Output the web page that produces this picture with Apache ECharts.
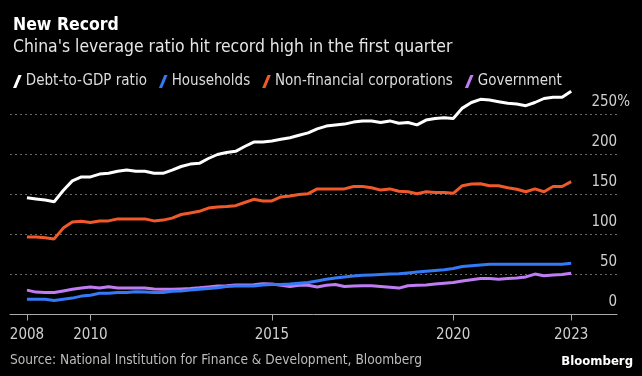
<!DOCTYPE html>
<html>
<head>
<meta charset="utf-8">
<style>
html,body{margin:0;padding:0;background:#000;}
#main{width:642px;height:376px;}
</style>
<script src="https://cdn.jsdelivr.net/npm/echarts@6/dist/echarts.min.js"></script>
</head>
<body>
<div id="main"></div>
<script>
// quarterly data, 2008Q1 .. 2023Q1
let quarters = [
  '2008Q1','2008Q2','2008Q3','2008Q4','2009Q1','2009Q2','2009Q3','2009Q4',
  '2010Q1','2010Q2','2010Q3','2010Q4','2011Q1','2011Q2','2011Q3','2011Q4',
  '2012Q1','2012Q2','2012Q3','2012Q4','2013Q1','2013Q2','2013Q3','2013Q4',
  '2014Q1','2014Q2','2014Q3','2014Q4','2015Q1','2015Q2','2015Q3','2015Q4',
  '2016Q1','2016Q2','2016Q3','2016Q4','2017Q1','2017Q2','2017Q3','2017Q4',
  '2018Q1','2018Q2','2018Q3','2018Q4','2019Q1','2019Q2','2019Q3','2019Q4',
  '2020Q1','2020Q2','2020Q3','2020Q4','2021Q1','2021Q2','2021Q3','2021Q4',
  '2022Q1','2022Q2','2022Q3','2022Q4','2023Q1'
];
let debtToGdp = [
  146, 144.5, 143, 141, 155, 167, 172, 172,
  175.5, 176.5, 179, 180.5, 179, 179, 176.5, 176.5,
  180.5, 185, 188, 189, 195, 200, 202.5, 204,
  210, 215.5, 215.5, 217, 219, 221, 224, 227,
  232, 235.5, 237, 238, 240.5, 242, 242, 240,
  242, 239, 240, 237, 243, 245, 246, 245,
  258, 265, 269, 268, 266, 264, 263, 261,
  265, 270, 271.5, 271.5, 279
];
let households = [
  19, 19, 19, 17.5, 19, 20.5, 23, 24,
  26.5, 26.5, 27.5, 27.5, 28.5, 28, 27.5, 27.5,
  29, 29.5, 30.5, 31.5, 32.5, 33.5, 35, 35.5,
  35.5, 35.5, 37, 37.5, 37.5, 38, 39, 40,
  42, 44, 45.5, 47, 48, 49, 49.5, 50,
  50.5, 51, 52, 53, 54, 55, 56, 57.5,
  60, 61, 62, 62.7, 62.7, 62.7, 62.7, 62.7,
  62.7, 62.7, 62.7, 62.7, 64
];
let corporations = [
  97, 97, 96, 94.5, 108, 115.5, 116.5, 115,
  117, 117, 119.5, 119.5, 119.5, 119.5, 117, 118,
  120.5, 125, 127, 129, 133, 134.5, 135, 136,
  140, 144, 142, 142, 147, 148, 150, 151,
  157, 157, 157, 157, 160, 160, 158.5, 155.5,
  157, 154, 153.5, 151, 153.5, 152.5, 152.5, 151.5,
  161, 163, 163.5, 161, 161, 158.5, 156.5, 153.5,
  157, 153.5, 160, 160, 166
];
let government = [
  30.5, 28, 27.5, 27.5, 29.5, 31.5, 33, 34.5,
  33, 34.8, 33, 33, 33, 33, 32, 31.5,
  31.5, 32, 32.5, 33.3, 34.5, 35.5, 36, 37,
  37, 37.3, 38.5, 38, 36.5, 35, 36.5, 36.5,
  34.5, 36.5, 37.5, 35, 35.5, 36, 36, 35,
  34, 33, 36, 36.5, 37, 38, 39, 40,
  42, 43.5, 45, 45, 44, 45, 45.5, 47,
  50.5, 48.5, 49.5, 50, 51.5
];
let tickQuarters = ['2008Q1', '2009Q4', '2014Q4', '2019Q4', '2023Q1'];
let tickLabels = ['2008', '2010', '2015', '2020', '2023'];

let font = "'Liberation Sans Narrow', 'DejaVu Sans Condensed', 'Roboto', sans-serif";
let tickIdx = tickQuarters.map(function(q){ return quarters.indexOf(q); });

function pairs(arr){
  return arr.map(function(v, i){ return [i, v]; });
}

let slash = 'path://M0,12 L5,0 L8,0 L3,12 Z';

let myChart = echarts.init(document.getElementById('main'));
let option = {
  backgroundColor: '#000',
  animation: false,
  textStyle: { fontFamily: font },
  title: [
    {
      text: 'New Record',
      left: 8, top: 11,
      textStyle: { color: '#fff', fontSize: 17.5, fontWeight: 'bold', fontFamily: font }
    },
    {
      text: "China's leverage ratio hit record high in the first quarter",
      left: 8, top: 34,
      textStyle: { color: '#e6e6e6', fontSize: 17.4, fontWeight: 'normal', fontFamily: font }
    }
  ],
  legend: {
    left: 8, top: 69,
    icon: slash,
    itemWidth: 9, itemHeight: 13,
    itemGap: 12,
    textStyle: { color: '#dcdcdc', fontSize: 15, fontFamily: font, padding: [0, 0, 0, -1] },
    data: ['Debt-to-GDP ratio', 'Households', 'Non-financial corporations', 'Government']
  },
  grid: { left: 10, right: 25, top: 74.5, bottom: 61.5, containLabel: false },
  xAxis: {
    type: 'value',
    min: -1.87, max: 65.05,
    axisLine: { show: true, lineStyle: { color: '#aaa', width: 1 } },
    axisTick: { show: true, customValues: tickIdx, length: 6, lineStyle: { color: '#aaa' } },
    axisLabel: {
      customValues: tickIdx,
      color: '#d0d0d0', fontSize: 15, margin: 13, fontFamily: font,
      formatter: function(v){ return tickLabels[tickIdx.indexOf(Math.round(v))]; }
    },
    splitLine: { show: false }
  },
  yAxis: {
    type: 'value',
    position: 'right',
    min: 0, max: 300, interval: 50,
    axisLine: { show: false },
    axisTick: { show: false },
    axisLabel: {
      inside: true, margin: -13,
      verticalAlign: 'bottom', padding: [0, 0, 5, 0],
      color: '#d0d0d0', fontSize: 15, fontFamily: font,
      showMaxLabel: false,
      formatter: function(v){ return v === 250 ? v + '%' : v + '{h|%}'; },
      rich: { h: { color: 'transparent', fontSize: 15, fontFamily: font } }
    },
    splitLine: { show: true, showMinLine: false, showMaxLine: false, lineStyle: { color: '#6a6a6a', type: [2, 3], width: 1 } }
  },
  series: [
    { name: 'Debt-to-GDP ratio', type: 'line', data: pairs(debtToGdp), showSymbol: false,
      color: '#ffffff', lineStyle: { width: 3 }, z: 5 },
    { name: 'Households', type: 'line', data: pairs(households), showSymbol: false,
      color: '#3479f5', lineStyle: { width: 3 }, z: 4 },
    { name: 'Non-financial corporations', type: 'line', data: pairs(corporations), showSymbol: false,
      color: '#f0592a', lineStyle: { width: 3 }, z: 4 },
    { name: 'Government', type: 'line', data: pairs(government), showSymbol: false,
      color: '#c07cf2', lineStyle: { width: 3 }, z: 3 }
  ],
  graphic: [
    { type: 'text', left: 10, top: 353,
      style: { text: 'Source: National Institution for Finance & Development, Bloomberg',
        fill: '#bdbdbd', fontSize: 13.6, fontFamily: font } },
    { type: 'text', right: 9, top: 355,
      style: { text: 'Bloomberg', fill: '#fff', fontSize: 13, fontWeight: 'bold', fontFamily: font } }
  ]
};
myChart.setOption(option);
</script>
</body>
</html>
